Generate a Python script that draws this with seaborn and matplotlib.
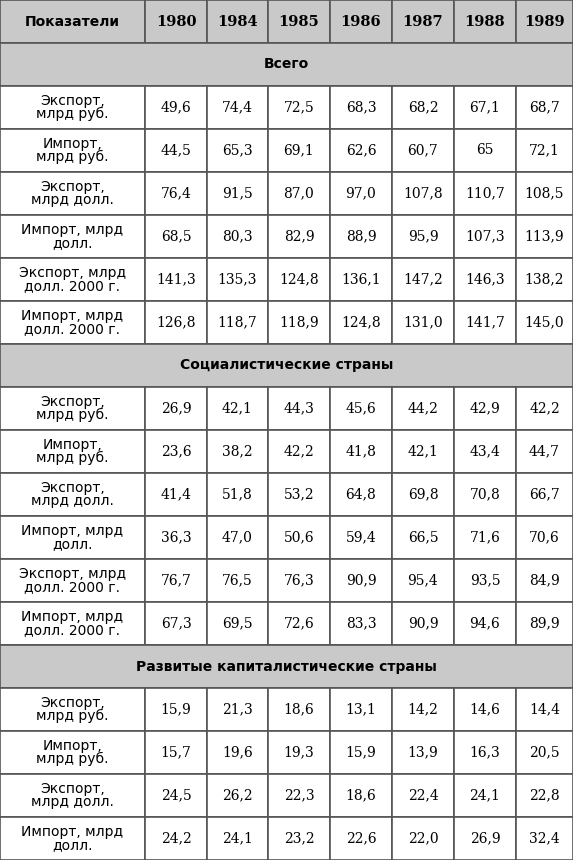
import matplotlib
matplotlib.use("Agg")
import matplotlib.pyplot as plt
import seaborn as sns
from matplotlib.patches import Rectangle

sns.set_theme(style="white")
plt.rcParams['font.family'] = ['DejaVu Sans']
plt.rcParams['text.color'] = 'black'

years = ["1980", "1984", "1985", "1986", "1987", "1988", "1989"]
labels = ["Экспорт,\nмлрд руб.", "Импорт,\nмлрд руб.", "Экспорт,\nмлрд долл.",
          "Импорт, млрд\nдолл.", "Экспорт, млрд\nдолл. 2000 г.", "Импорт, млрд\nдолл. 2000 г."]
sections = ["Всего", "Социалистические страны", "Развитые капиталистические страны"]
total = [["49,6", "74,4", "72,5", "68,3", "68,2", "67,1", "68,7"],
         ["44,5", "65,3", "69,1", "62,6", "60,7", "65", "72,1"],
         ["76,4", "91,5", "87,0", "97,0", "107,8", "110,7", "108,5"],
         ["68,5", "80,3", "82,9", "88,9", "95,9", "107,3", "113,9"],
         ["141,3", "135,3", "124,8", "136,1", "147,2", "146,3", "138,2"],
         ["126,8", "118,7", "118,9", "124,8", "131,0", "141,7", "145,0"]]
social = [["26,9", "42,1", "44,3", "45,6", "44,2", "42,9", "42,2"],
          ["23,6", "38,2", "42,2", "41,8", "42,1", "43,4", "44,7"],
          ["41,4", "51,8", "53,2", "64,8", "69,8", "70,8", "66,7"],
          ["36,3", "47,0", "50,6", "59,4", "66,5", "71,6", "70,6"],
          ["76,7", "76,5", "76,3", "90,9", "95,4", "93,5", "84,9"],
          ["67,3", "69,5", "72,6", "83,3", "90,9", "94,6", "89,9"]]
capital = [["15,9", "21,3", "18,6", "13,1", "14,2", "14,6", "14,4"],
           ["15,7", "19,6", "19,3", "15,9", "13,9", "16,3", "20,5"],
           ["24,5", "26,2", "22,3", "18,6", "22,4", "24,1", "22,8"],
           ["24,2", "24,1", "23,2", "22,6", "22,0", "26,9", "32,4"]]

W, H = 573, 860
fig = plt.figure(figsize=(W / 100, H / 100), dpi=100)
ax = fig.add_axes([0, 0, 1, 1])
ax.set_xlim(0, W)
ax.set_ylim(H, 0)
ax.axis("off")

xs = [0, 145, 207, 268, 330, 392, 454, 516, 573]
rh = 43
gray = "#c9c9c9"
edge = "#555555"
y = 0

def cell(x0, x1, y0, fc):
    ax.add_patch(Rectangle((x0, y0), x1 - x0, rh, facecolor=fc, edgecolor=edge, lw=1.2))

for i in range(8):
    cell(xs[i], xs[i + 1], y, gray)
ax.text((xs[0] + xs[1]) / 2, y + rh / 2, "Показатели", ha="center", va="center",
        fontsize=10, fontweight="bold", family="DejaVu Sans Condensed", color="black")
for i, yr in enumerate(years):
    ax.text((xs[i + 1] + xs[i + 2]) / 2, y + rh / 2, yr, ha="center", va="center",
            fontsize=10.5, fontweight="bold", family="DejaVu Serif", color="black")
y += rh

for sec, data in zip(sections, [total, social, capital]):
    cell(0, W, y, gray)
    ax.text(W / 2, y + rh / 2, sec, ha="center", va="center", fontsize=10,
            fontweight="bold", family="DejaVu Sans Condensed", color="black")
    y += rh
    for r, row in enumerate(data):
        for i in range(8):
            cell(xs[i], xs[i + 1], y, "white")
        ax.text((xs[0] + xs[1]) / 2, y + rh / 2, labels[r], ha="center", va="center",
                fontsize=10, linespacing=0.95, family="DejaVu Sans Condensed", color="black")
        for i, v in enumerate(row):
            ax.text((xs[i + 1] + xs[i + 2]) / 2, y + rh / 2, v, ha="center", va="center",
                    fontsize=10, family="DejaVu Serif", color="black")
        y += rh

fig.savefig("out.png", dpi=100)
